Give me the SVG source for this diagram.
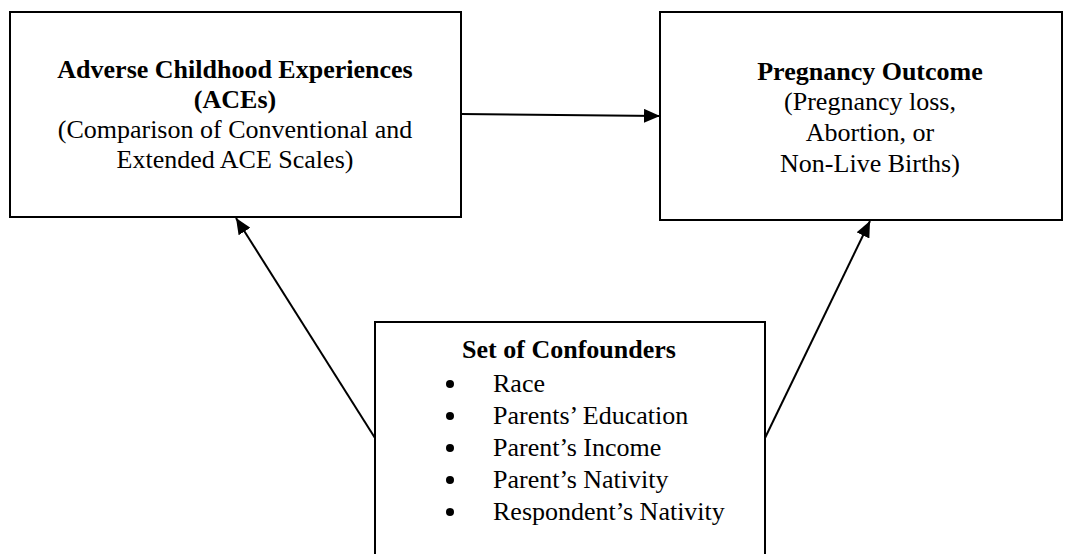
<svg xmlns="http://www.w3.org/2000/svg" width="1067" height="554" viewBox="0 0 1067 554">
<style>
.box{fill:#fff;stroke:#000;stroke-width:2}
.t{font-family:"Liberation Serif","Times New Roman",serif;font-size:26px;fill:#000;text-anchor:middle}
.b{font-weight:bold}
.li{font-family:"Liberation Serif","Times New Roman",serif;font-size:26px;fill:#000}
.c{stroke:#000;stroke-width:2;fill:none}
</style>
<defs>
<marker id="ah" markerUnits="userSpaceOnUse" markerWidth="18" markerHeight="14" refX="16" refY="7" orient="auto">
<path d="M0,0 L16,7 L0,14 Z" fill="#000"/>
</marker>
</defs>
<g id="ace">
<rect class="box" x="10" y="12" width="451" height="205"/>
<text class="t b" x="235" y="78">Adverse Childhood Experiences</text>
<text class="t b" x="235" y="108">(ACEs)</text>
<text class="t" x="235" y="138">(Comparison of Conventional and</text>
<text class="t" x="235" y="168">Extended ACE Scales)</text>
</g>
<g id="outcome">
<rect class="box" x="660" y="12" width="402" height="208"/>
<text class="t b" x="870" y="80">Pregnancy Outcome</text>
<text class="t" x="870" y="110">(Pregnancy loss,</text>
<text class="t" x="870" y="141">Abortion, or</text>
<text class="t" x="870" y="172">Non-Live Births)</text>
</g>
<g id="confounders">
<rect class="box" x="375" y="322" width="390" height="250"/>
<text class="t b" x="569" y="358">Set of Confounders</text>
<circle cx="450" cy="384" r="4"/>
<circle cx="450" cy="416" r="4"/>
<circle cx="450" cy="448" r="4"/>
<circle cx="450" cy="480" r="4"/>
<circle cx="450" cy="512" r="4"/>
<text class="li" x="493" y="392">Race</text>
<text class="li" x="493" y="424">Parents’ Education</text>
<text class="li" x="493" y="456">Parent’s Income</text>
<text class="li" x="493" y="488">Parent’s Nativity</text>
<text class="li" x="493" y="520">Respondent’s Nativity</text>
</g>
<g id="connectors">
<line class="c" x1="461" y1="114" x2="660" y2="116" marker-end="url(#ah)"/>
<line class="c" x1="375" y1="438" x2="236" y2="218" marker-end="url(#ah)"/>
<line class="c" x1="765" y1="438" x2="870" y2="221" marker-end="url(#ah)"/>
</g>
</svg>
